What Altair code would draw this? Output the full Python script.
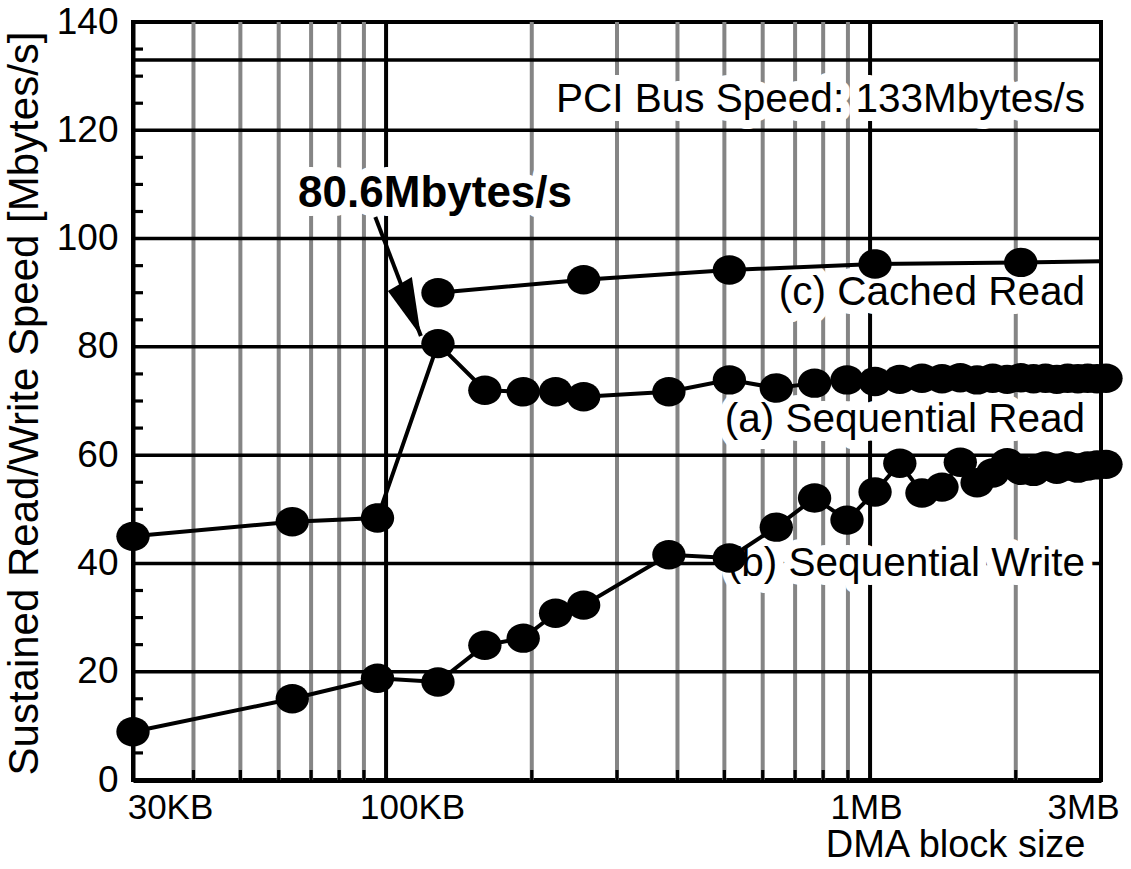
import altair as alt
import pandas as pd

# DMA block sizes (KB) shared by the sequential read/write runs
block_kb = [30, 64, 96, 128, 160, 192, 224, 256, 384, 512, 640, 768, 896,
            1024, 1152, 1280, 1408, 1536, 1664, 1792, 1920, 2048, 2176,
            2304, 2432, 2560, 2688, 2816, 2944, 3072]
seq_read = [45.0, 47.7, 48.4, 80.6, 72.0, 71.7, 71.7, 70.8, 71.7, 73.9,
            72.4, 73.3, 73.9, 73.6, 74.0, 74.2, 74.1, 74.3, 73.9, 74.2,
            74.0, 74.3, 74.1, 74.2, 74.0, 74.2, 74.1, 74.2, 74.1, 74.2]
seq_write = [8.9, 15.0, 18.8, 18.1, 24.9, 26.2, 30.8, 32.3, 41.6, 41.0,
             46.7, 52.1, 48.0, 53.2, 58.5, 53.0, 54.1, 58.7, 54.9, 56.7,
             58.6, 57.2, 57.0, 58.0, 57.4, 58.0, 57.6, 58.0, 58.2, 58.3]

# cached read runs, and where its line runs on to the right edge
cached_kb = [128, 256, 512, 1024, 2048]
cached_read = [90.0, 92.4, 94.2, 95.3, 95.6]
cached_tail_kb = [3000]
cached_tail = [95.8]

# grid
minor_kb = [40, 50, 60, 70, 80, 90, 200, 300, 400, 500, 600, 700, 800, 900, 2000]
major_kb = [100, 1000]
h_grid = [20, 40, 60, 80, 100, 120]
pci_speed = [133]
y_minor = [v for v in range(5, 140, 5) if v % 20 != 0]
y_ticks = [0, 20, 40, 60, 80, 100, 120, 140]
x_ticks = [30, 100, 1000, 3000]
x_min, y_min = 30, 0

# annotation arrow (tail, head)
arrow_kb = [95, 118]
arrow_mb = [104.0, 82.0]

# curve labels, right-aligned at the right edge
note_text = ["PCI Bus Speed: 133Mbytes/s", "(c) Cached Read",
             "(a) Sequential Read", "(b) Sequential Write"]
note_kb = [3000, 3000, 3000, 3000]
note_mb = [123.4, 87.7, 64.3, 37.7]
peak_text = ["80.6Mbytes/s"]
peak_kb = [65.8]
peak_mb = [105.8]

FONT = "Liberation Sans"
W, H = 968, 758

xs = alt.Scale(type="log", domain=[30, 3000], nice=False)
ys = alt.Scale(domain=[0, 140], nice=False, zero=False)

label_names = ("datum.value == 30 ? '30KB' : datum.value == 100 ? '100KB' : "
               "datum.value == 1000 ? '1MB' : '3MB'")
X_AXIS = alt.Axis(
    values=x_ticks, labelExpr=label_names, labelFont=FONT, labelFontSize=35,
    labelColor="black", labelPadding=10, tickSize=0, domainColor="black",
    domainWidth=5, grid=False, labelFlush=False, labelOverlap=False,
    labelOffset={"condition": [
        {"test": "datum.value <= 30", "value": 37},
        {"test": "datum.value == 100", "value": 26},
        {"test": "datum.value >= 3000", "value": -18}], "value": -4},
    title="DMA block size", titleFont=FONT, titleFontSize=38,
    titleFontWeight="normal", titleColor="black", titleAlign="right",
    titleBaseline="alphabetic", titleX=952, titleY=76)
Y_AXIS = alt.Axis(
    values=y_ticks, labelFont=FONT, labelFontSize=37, labelColor="black",
    labelPadding=15, tickSize=0, domainColor="black", domainWidth=4,
    grid=False, title="Sustained Read/Write Speed [Mbytes/s]",
    titleFont=FONT, titleFontSize=42, titleFontWeight="normal",
    titleColor="black", titleAngle=270, titleAlign="center",
    titleBaseline="alphabetic", titleX=-96, titleY=H / 2 + 2)

def X(field):
    return alt.X(field, scale=xs, axis=X_AXIS)

def Y(field):
    return alt.Y(field, scale=ys, axis=Y_AXIS)

series = pd.concat([
    pd.DataFrame({"kb": block_kb, "mb": seq_read, "s": "read"}),
    pd.DataFrame({"kb": block_kb, "mb": seq_write, "s": "write"}),
    pd.DataFrame({"kb": cached_kb, "mb": cached_read, "s": "cached"}),
], ignore_index=True)
cached_line = pd.DataFrame({"kb": cached_kb + cached_tail_kb,
                            "mb": cached_read + cached_tail})

minor_v = alt.Chart(pd.DataFrame({"kb": minor_kb})).mark_rule(
    color="#858585", strokeWidth=4).encode(x=X("kb:Q"))
major_v = alt.Chart(pd.DataFrame({"kb": major_kb})).mark_rule(
    color="black", strokeWidth=4).encode(x=X("kb:Q"))
hgrid = alt.Chart(pd.DataFrame({"mb": h_grid + pci_speed})).mark_rule(
    color="black", strokeWidth=3.5).encode(y=Y("mb:Q"))

# short inward ticks along the left and bottom edges, drawn as bar-shaped symbols
tick_right = "M 0 -0.16 L 1 -0.16 L 1 0.16 L 0 0.16 Z"
tick_up = "M -0.16 -1 L 0.16 -1 L 0.16 0 L -0.16 0 Z"
ytick_in = alt.Chart(pd.DataFrame({"mb": y_minor, "kb": x_min})).mark_point(
    shape=tick_right, size=400, filled=True, color="black", opacity=1,
    clip=False).encode(x=X("kb:Q"), y=Y("mb:Q"))
xtick_in = alt.Chart(pd.DataFrame({"kb": minor_kb, "mb": y_min})).mark_point(
    shape=tick_up, size=400, filled=True, color="black", opacity=1,
    clip=False).encode(x=X("kb:Q"), y=Y("mb:Q"))

notes = pd.DataFrame({"t": note_text, "kb": note_kb, "mb": note_mb})
peak = pd.DataFrame({"t": peak_text, "kb": peak_kb, "mb": peak_mb})

note_style = dict(font=FONT, fontSize=40.5, align="right", baseline="alphabetic", dx=-16)
peak_style = dict(font=FONT, fontSize=44, fontWeight="bold", align="left", baseline="alphabetic")

def label_layer(df, style, halo):
    extra = dict(color="white", stroke="white", strokeWidth=18, strokeJoin="round") if halo \
        else dict(color="black")
    return alt.Chart(df).mark_text(**style, **extra).encode(
        x=X("kb:Q"), y=Y("mb:Q"), text="t:N")

lines = alt.Chart(series[series.s != "cached"]).mark_line(
    color="black", strokeWidth=4).encode(x=X("kb:Q"), y=Y("mb:Q"), detail="s:N")
cline = alt.Chart(cached_line).mark_line(color="black", strokeWidth=4).encode(
    x=X("kb:Q"), y=Y("mb:Q"))

ellipse = "M -1.1 0 A 1.1 0.97 0 1 0 1.1 0 A 1.1 0.97 0 1 0 -1.1 0 Z"
dots = alt.Chart(series).mark_point(
    shape=ellipse, size=920, filled=True, color="black", opacity=1, clip=False).encode(
    x=X("kb:Q"), y=Y("mb:Q"))

arrow_df = pd.DataFrame({"kb": [arrow_kb[0]], "mb": [arrow_mb[0]],
                         "kb2": [arrow_kb[1]], "mb2": [arrow_mb[1]]})
arrow_shaft = alt.Chart(arrow_df).mark_rule(color="black", strokeWidth=4).encode(
    x=X("kb:Q"), y=Y("mb:Q"), x2="kb2:Q", y2="mb2:Q")
arrow_head = alt.Chart(arrow_df).mark_point(
    shape="M 0 0 L -0.3 -1.97 L -1.1 -1.5 Z", size=3600, filled=True,
    color="black", opacity=1).encode(x=X("kb2:Q"), y=Y("mb2:Q"))

chart = alt.layer(
    minor_v, major_v, hgrid,
    label_layer(notes, note_style, True), label_layer(peak, peak_style, True),
    lines, cline, dots, arrow_shaft, arrow_head,
    label_layer(notes, note_style, False), label_layer(peak, peak_style, False),
    ytick_in, xtick_in,
).properties(
    width=W, height=H,
    autosize=alt.AutoSizeParams(type="none"),
    padding={"left": 133, "top": 22, "right": 30, "bottom": 89},
    background="white",
).configure_view(stroke="black", strokeWidth=4)

chart.save("out.html", embed_options={"renderer": "svg", "actions": False})
